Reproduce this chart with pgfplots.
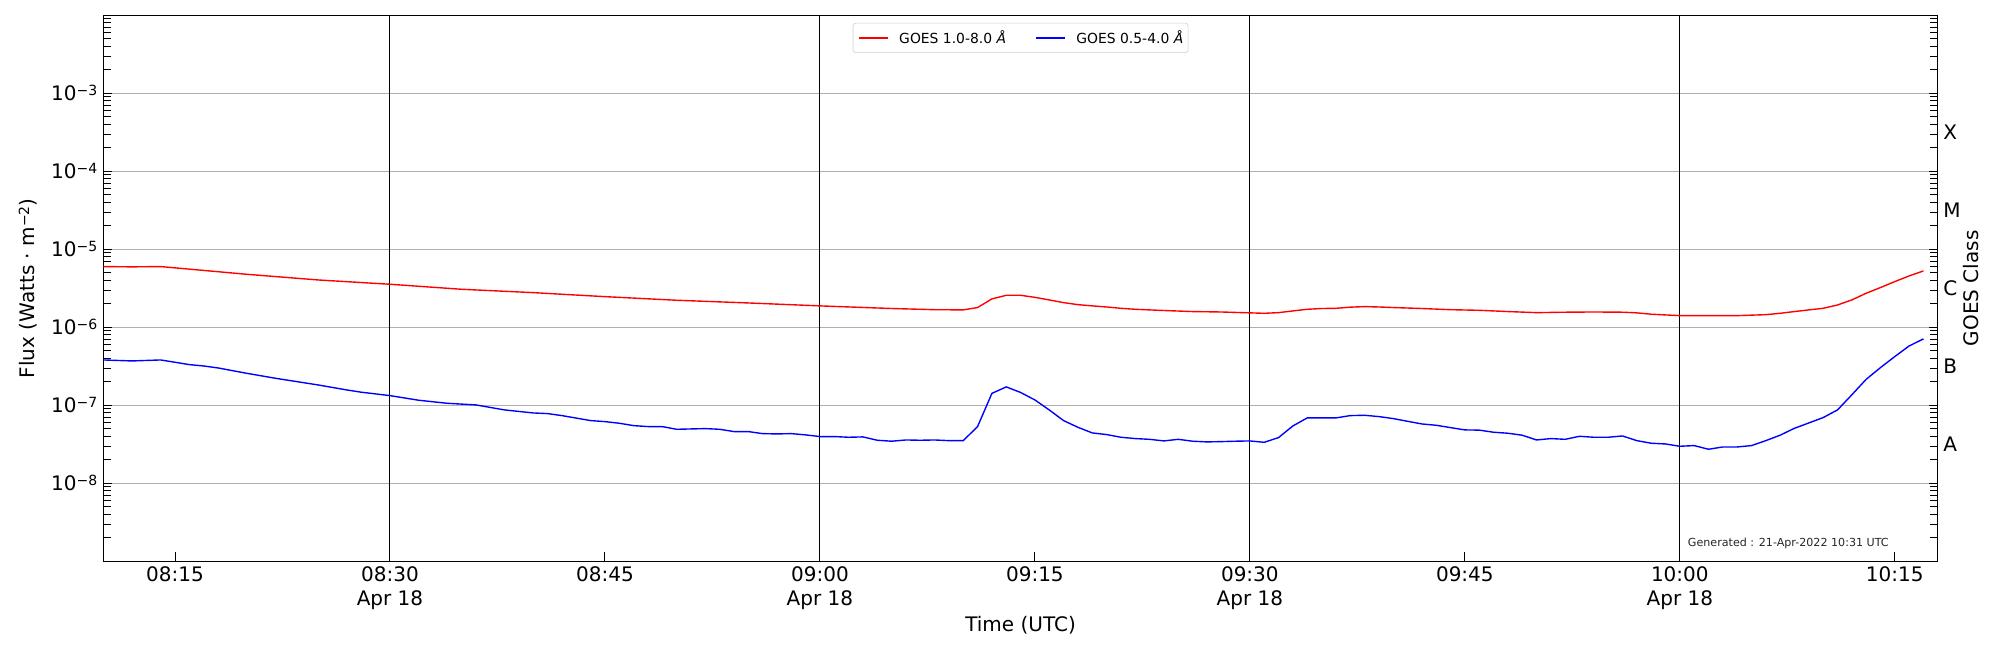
\documentclass[border=0pt]{standalone}
\usepackage{pgfplots}
\pgfplotsset{compat=1.18}
\usepackage{fontspec}
\setmainfont{DejaVu Sans}
\definecolor{gridc}{HTML}{B0B0B0}
\definecolor{legc}{HTML}{CCCCCC}
\newcommand\supr[1]{\raisebox{3.8pt}{\fontsize{10.1}{10}\selectfont #1}}
\newcommand\tp[1]{10\supr{−#1}}
\newcommand\mainfont{\fontsize{14.4}{16.8}\selectfont}
\begin{document}
\begin{tikzpicture}[font=\mainfont]
\begin{axis}[
  at={(74.4pt,63.9pt)}, anchor=south west,
  scale only axis, width=1320.8pt, height=393.1pt,
  xmin=10, xmax=138,
  ymode=log, ymin=1e-9, ymax=1e-2,
  axis line style={line width=0.9pt},
  tick align=inside,
  xtick pos=left,
  ytick pos=both,
  tick style={black, line width=0.7pt},
  major tick length=6.5pt,
  xtick={15,30,45,60,75,90,105,120,135},
  xticklabels={08:15,{08:30\\Apr 18},08:45,{09:00\\Apr 18},09:15,{09:30\\Apr 18},09:45,{10:00\\Apr 18},10:15},
  xticklabel style={align=center, anchor=north, inner sep=0pt, yshift=-3.9pt, font=\mainfont},
  extra x ticks={30,60,90,120},
  extra x tick labels={},
  extra x tick style={grid=major, major grid style={black, line width=0.75pt}, tick style={draw=none}},
  ytick={1e-9,1e-8,1e-7,1e-6,1e-5,1e-4,1e-3,1e-2},
  yticklabels={{},\tp{8},\tp{7},\tp{6},\tp{5},\tp{4},\tp{3},{}},
  extra y ticks={2e-9,3e-9,4e-9,5e-9,6e-9,7e-9,8e-9,9e-9,
               2e-8,3e-8,4e-8,5e-8,6e-8,7e-8,8e-8,9e-8,
               2e-7,3e-7,4e-7,5e-7,6e-7,7e-7,8e-7,9e-7,
               2e-6,3e-6,4e-6,5e-6,6e-6,7e-6,8e-6,9e-6,
               2e-5,3e-5,4e-5,5e-5,6e-5,7e-5,8e-5,9e-5,
               2e-4,3e-4,4e-4,5e-4,6e-4,7e-4,8e-4,9e-4,
               2e-3,3e-3,4e-3,5e-3,6e-3,7e-3,8e-3,9e-3},
  extra y tick labels={},
  extra y tick style={grid=none, major tick length=5.5pt},
  yticklabel style={anchor=east, inner sep=0pt, xshift=-4.1pt, font=\mainfont},
  ymajorgrids=true,
  major grid style={gridc, line width=0.7pt},
  xlabel={Time (UTC)},
  xlabel style={at={(axis description cs:0.5,-0.129)}, anchor=base, inner sep=0pt, font=\mainfont},
  ylabel={Flux (Watts · m\supr{−2})},
  ylabel style={at={(axis description cs:-0.0376,0.5)}, anchor=base, inner sep=0pt, font=\mainfont},
  legend columns=2,
  legend cell align=left,
  legend image code/.code={\draw[#1] (0pt,0pt) -- (20.9pt,0pt);},
  legend style={at={(axis description cs:0.5,0.986)}, anchor=north,
    draw=legc, rounded corners=2pt, fill=white,
    font=\fontsize{10}{12}\selectfont,
    inner xsep=3.5pt, inner ysep=5.2pt,
    nodes={inner sep=0pt},
    /tikz/every odd column/.append style={column sep=7.9pt},
    /tikz/every even column/.append style={column sep=20.9pt}},
]
\addplot[red, line width=1pt] coordinates {
(10,6.00e-6) (12,5.95e-6) (14,6.00e-6) (20,4.78e-6) (25,4.04e-6) (30,3.56e-6)
(35,3.07e-6) (40,2.78e-6) (42,2.65e-6) (45,2.47e-6) (50,2.22e-6) (55,2.05e-6)
(60,1.88e-6) (65,1.74e-6) (68,1.68e-6) (70,1.67e-6) (71,1.79e-6) (72,2.31e-6)
(73,2.57e-6) (74,2.57e-6) (75,2.42e-6) (76,2.24e-6) (77,2.07e-6) (78,1.95e-6)
(79,1.88e-6) (80,1.82e-6) (81,1.75e-6) (82,1.70e-6) (84,1.64e-6) (86,1.59e-6)
(88,1.57e-6) (90,1.53e-6) (91,1.51e-6) (92,1.54e-6) (93,1.62e-6) (94,1.70e-6)
(95,1.74e-6) (96,1.75e-6) (97,1.81e-6) (98,1.84e-6) (99,1.82e-6) (100,1.79e-6)
(102,1.74e-6) (104,1.68e-6) (106,1.65e-6) (108,1.59e-6) (110,1.54e-6) (112,1.56e-6)
(114,1.57e-6) (116,1.56e-6) (117,1.53e-6) (118,1.47e-6) (120,1.41e-6) (122,1.41e-6)
(124,1.41e-6) (125,1.43e-6) (126,1.45e-6) (127,1.51e-6) (128,1.59e-6) (129,1.67e-6)
(130,1.75e-6) (131,1.93e-6) (132,2.24e-6) (133,2.73e-6) (134,3.23e-6) (135,3.85e-6)
(136,4.55e-6) (137,5.28e-6)
};
\addlegendentry{GOES 1.0-8.0 \textit{Å}}
\addplot[blue, line width=1pt] coordinates {
(10,3.81e-7) (12,3.70e-7) (14,3.81e-7) (15,3.56e-7) (16,3.32e-7) (17,3.19e-7)
(18,3.01e-7) (20,2.57e-7) (22,2.22e-7) (25,1.82e-7) (27,1.57e-7) (28,1.47e-7)
(30,1.33e-7) (32,1.16e-7) (34,1.06e-7) (36,1.01e-7) (38,8.71e-8) (40,7.97e-8)
(41,7.82e-8) (42,7.37e-8) (44,6.36e-8) (45,6.17e-8) (46,5.88e-8) (47,5.48e-8)
(48,5.33e-8) (49,5.33e-8) (50,4.92e-8) (51,4.97e-8) (52,5.02e-8) (53,4.92e-8)
(54,4.60e-8) (55,4.60e-8) (56,4.33e-8) (57,4.29e-8) (58,4.33e-8) (59,4.17e-8)
(60,3.97e-8) (61,3.97e-8) (62,3.89e-8) (63,3.93e-8) (64,3.56e-8) (65,3.46e-8)
(66,3.59e-8) (67,3.56e-8) (68,3.59e-8) (69,3.52e-8) (70,3.52e-8) (71,5.33e-8)
(72,1.42e-7) (73,1.72e-7) (74,1.46e-7) (75,1.17e-7) (76,8.71e-8) (77,6.36e-8)
(78,5.22e-8) (79,4.42e-8) (80,4.21e-8) (81,3.89e-8) (82,3.74e-8) (83,3.66e-8)
(84,3.49e-8) (85,3.66e-8) (86,3.46e-8) (87,3.39e-8) (88,3.42e-8) (89,3.46e-8)
(90,3.49e-8) (91,3.35e-8) (92,3.85e-8) (93,5.43e-8) (94,6.88e-8) (95,6.88e-8)
(96,6.88e-8) (97,7.37e-8) (98,7.44e-8) (99,7.16e-8) (100,6.75e-8) (101,6.23e-8)
(102,5.76e-8) (103,5.54e-8) (104,5.17e-8) (105,4.83e-8) (106,4.80e-8) (107,4.51e-8)
(108,4.38e-8) (109,4.13e-8) (110,3.59e-8) (111,3.74e-8) (112,3.66e-8) (113,4.00e-8)
(114,3.89e-8) (115,3.89e-8) (116,4.04e-8) (117,3.52e-8) (118,3.26e-8) (119,3.19e-8)
(120,2.98e-8) (121,3.04e-8) (122,2.73e-8) (123,2.92e-8) (124,2.92e-8) (125,3.04e-8)
(126,3.52e-8) (127,4.13e-8) (128,5.07e-8) (129,5.93e-8) (130,6.95e-8) (131,8.71e-8)
(132,1.36e-7) (133,2.15e-7) (134,3.04e-7) (135,4.21e-7) (136,5.76e-7) (137,7.09e-7)
};
\addlegendentry{GOES 0.5-4.0 \textit{Å}}
\node[anchor=east, inner sep=0pt, font=\fontsize{8}{9}\selectfont, text=black!85]
  at (rel axis cs:0.9734,0.0324) {Generated : 21-Apr-2022 10:31 UTC};
\end{axis}
\begin{axis}[
  at={(74.4pt,63.9pt)}, anchor=south west,
  scale only axis, width=1320.8pt, height=393.1pt,
  xmin=10, xmax=138,
  ymode=log, ymin=1e-9, ymax=1e-2,
  axis x line=none,
  axis y line*=right,
  axis line style={line width=0.9pt},
  major tick length=0pt,
  yminorticks=false,
  ytick={3.1623e-8,3.1623e-7,3.1623e-6,3.1623e-5,3.1623e-4},
  yticklabels={A,B,C,M,X},
  yticklabel style={anchor=west, inner sep=0pt, xshift=3.8pt, font=\mainfont},
  ylabel={GOES Class},
  ylabel style={at={(axis description cs:1.0222,0.5)}, anchor=base, inner sep=0pt, font=\mainfont},
]
\end{axis}
\pgfresetboundingbox
\path[use as bounding box] (0pt,0pt) rectangle (1440pt,468pt);
\end{tikzpicture}
\end{document}
